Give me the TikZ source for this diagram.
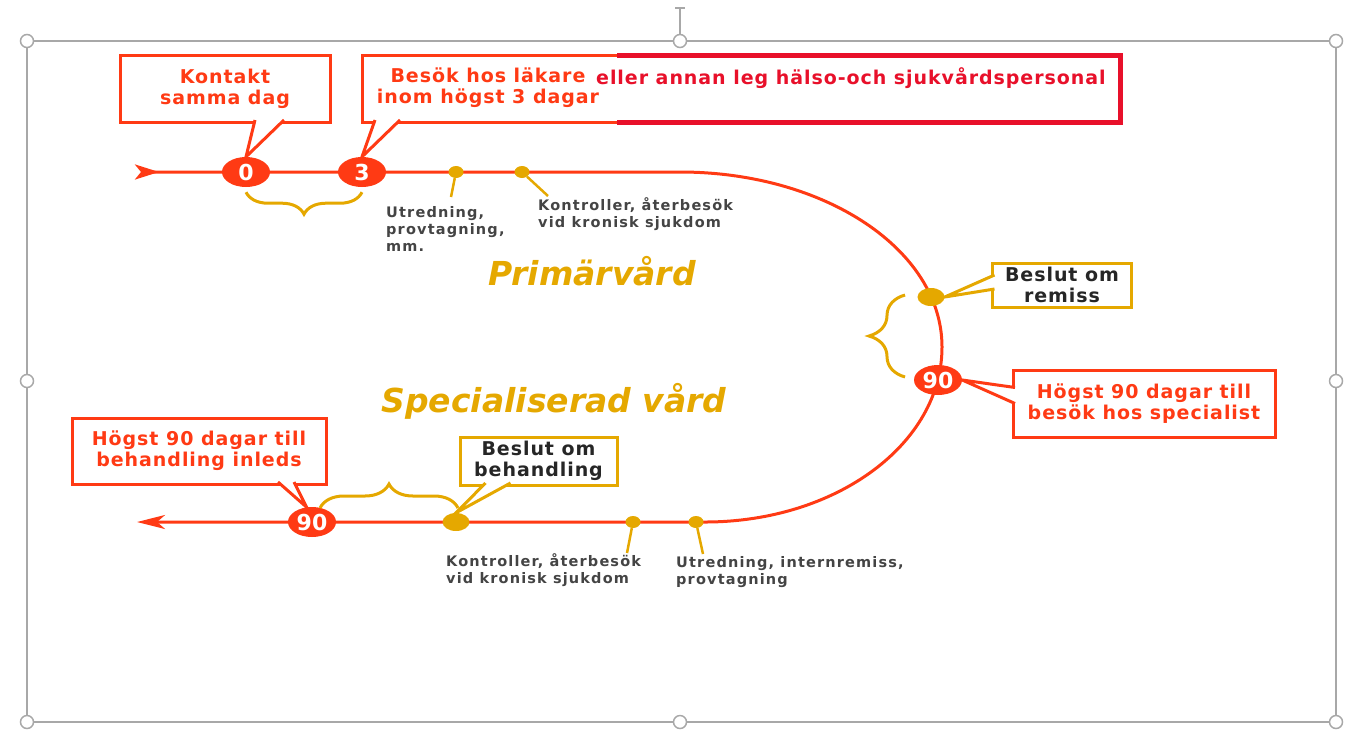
\documentclass[tikz,border=0pt]{standalone}
\usepackage{fontspec}
\setmainfont{DejaVu Sans}[BoldFont={* Bold}, ItalicFont={* Oblique}, BoldItalicFont={* Bold Oblique}]
\newfontfamily\callfont{DejaVu Sans}[BoldFont={* Bold}, LetterSpace=5]
\newfontfamily\notefont{DejaVu Sans}[BoldFont={* Bold}, LetterSpace=8]
\usetikzlibrary{arrows.meta, shapes.geometric, decorations.pathreplacing}

\definecolor{tlred}{HTML}{FF3A14}
\definecolor{legred}{HTML}{E8102A}
\definecolor{gold}{HTML}{E5A800}
\definecolor{notegray}{HTML}{444444}
\definecolor{framegray}{HTML}{A8A8A8}

\tikzset{
  timeline/.style={draw=tlred, line width=3pt},
  num/.style={ellipse, fill=tlred, text=white, inner sep=0pt, minimum width=48pt,
              minimum height=30pt, font=\bfseries\fontsize{22}{22}\selectfont},
  dot/.style={ellipse, fill=gold, inner sep=0pt, minimum width=15pt, minimum height=12pt},
  bigdot/.style={dot, minimum width=27pt, minimum height=18pt},
  note/.style={anchor=north west, inner sep=0pt, align=left, text=notegray,
               font=\notefont\bfseries\fontsize{14.5}{17}\selectfont},
  stem/.style={draw=gold, line width=2.5pt},
  calltext/.style={font=\callfont\bfseries\fontsize{19}{21}\selectfont},
  redbox/.style={draw=tlred, line width=3pt, fill=white, align=center, inner sep=0pt,
                 outer sep=0pt, text=tlred, calltext},
  goldbox/.style={redbox, draw=gold, text=black!85},
  redptr/.style={draw=tlred, line width=3pt, fill=white},
  goldptr/.style={redptr, draw=gold},
  brc/.style={draw=gold, line width=3pt, decorate, decoration={brace, amplitude=#1}},
  brc/.default=22,
  heading/.style={text=gold, font=\bfseries\itshape\fontsize{33}{33}\selectfont},
  handle/.style={draw=framegray, fill=white, line width=1.5pt}
}

\begin{document}
\begin{tikzpicture}[x=1pt, y=-1pt]
\useasboundingbox (0,0) rectangle (1356,729);

% selection frame
\draw[framegray, line width=1.5pt] (27,41) rectangle (1336,722);
\draw[framegray, line width=1.5pt] (680,35) -- (680,8) (675,8) -- (685,8);
\foreach \hx/\hy in {27/41, 680/41, 1336/41, 27/381, 1336/381, 27/722, 680/722, 1336/722}
  \draw[handle] (\hx,\hy) circle[radius=6.5];

% the path of care
\draw[timeline, {Stealth[reversed, length=24pt, width=15pt, inset=6pt]}-{Stealth[length=28pt, width=14pt, inset=8pt]}]
  (135,172) -- (680,172) .. controls (825,172) and (942,250) .. (942,347)
  .. controls (942,444) and (836,522) .. (705,522) -- (137,522);

\node[heading] (prim) at (592,271) {Primärvård};
\node[heading] (spec) at (554,401) {Specialiserad vård};

% primary care
\node[num] (n0) at (246,172) {0};
\node[num] (n3) at (362,172) {3};
\node[dot] (u1) at (456,172) {};
\node[dot] (k1) at (522,172) {};
\node[note] (utr1) at (386,206) {Utredning,\\provtagning,\\mm.};
\node[note] (kon1) at (538,197) {Kontroller, återbesök\\vid kronisk sjukdom};
\coordinate (u1e) at (451,197);
\coordinate (k1e) at (548,196);
\draw[stem] (u1) -- (u1e);
\draw[stem] (k1) -- (k1e);
\draw[brc] ([yshift=-5pt]n3.south) -- ([yshift=-5pt]n0.south);

\node[redbox, minimum width=210pt, minimum height=67pt] (kontakt) at (225,88.5) {Kontakt\\samma dag};
\node[redbox, minimum width=758pt, minimum height=67pt] (besokbox) at (741,88.5) {};
\node[calltext, text=tlred, align=center] (besok) at (488,88) {Besök hos läkare\\inom högst 3 dagar};
\node[calltext, anchor=west, inner sep=0pt, text=legred] (eller) at (596,78) {eller annan leg hälso-och sjukvårdspersonal};
\draw[legred, line width=5pt] (617,55) -- (1120,55) -- (1120,122) -- (617,122);

\draw[redptr] ([xshift=30pt, yshift=2pt]kontakt.south) -- (n0.north) -- ([xshift=59pt, yshift=2pt]kontakt.south);
\draw[redptr] ([xshift=13pt, yshift=2pt]besokbox.south west) -- (n3.north) -- ([xshift=38pt, yshift=2pt]besokbox.south west);

% referral
\node[bigdot] (rdot) at (931,297) {};
\node[num] (n90a) at (938,380) {90};
\draw[brc=36] (905,377) -- (905,295);
\node[goldbox, minimum width=139pt, minimum height=44pt] (remiss) at (1062,285) {Beslut om\\remiss};
\node[redbox, minimum width=262pt, minimum height=67pt] (spbox) at (1144,403.5) {Högst 90 dagar till\\besök hos specialist};
\draw[goldptr] ([xshift=2pt, yshift=10pt]remiss.west) -- (rdot.east) -- ([xshift=2pt, yshift=-4pt]remiss.west);
\draw[redptr] ([xshift=2pt, yshift=16pt]spbox.west) -- (n90a.east) -- ([xshift=2pt]spbox.west);

% specialised care
\node[num] (n90b) at (312,522) {90};
\node[bigdot] (bdot) at (456,522) {};
\node[dot] (k2) at (633,522) {};
\node[dot] (u2) at (696,522) {};
\node[note] (kon2) at (446,553) {Kontroller, återbesök\\vid kronisk sjukdom};
\node[note] (utr2) at (676,556) {Utredning, internremiss,\\provtagning};
\coordinate (k2e) at (627,553);
\coordinate (u2e) at (703,554);
\draw[stem] (k2) -- (k2e);
\draw[stem] (u2) -- (u2e);
\draw[brc=24] (320,508) -- (458,508);

\node[redbox, minimum width=254pt, minimum height=66pt] (behbox) at (199,451) {Högst 90 dagar till\\behandling inleds};
\node[goldbox, minimum width=157pt, minimum height=48pt] (beslut) at (538.5,461) {Beslut om\\behandling};
\draw[redptr] ([xshift=79pt, yshift=2pt]behbox.south) -- (n90b.110) -- ([xshift=95pt, yshift=2pt]behbox.south);
\draw[goldptr] ([xshift=-53pt, yshift=2pt]beslut.south) -- (bdot.north) -- ([xshift=-28pt, yshift=2pt]beslut.south);
\end{tikzpicture}
\end{document}
